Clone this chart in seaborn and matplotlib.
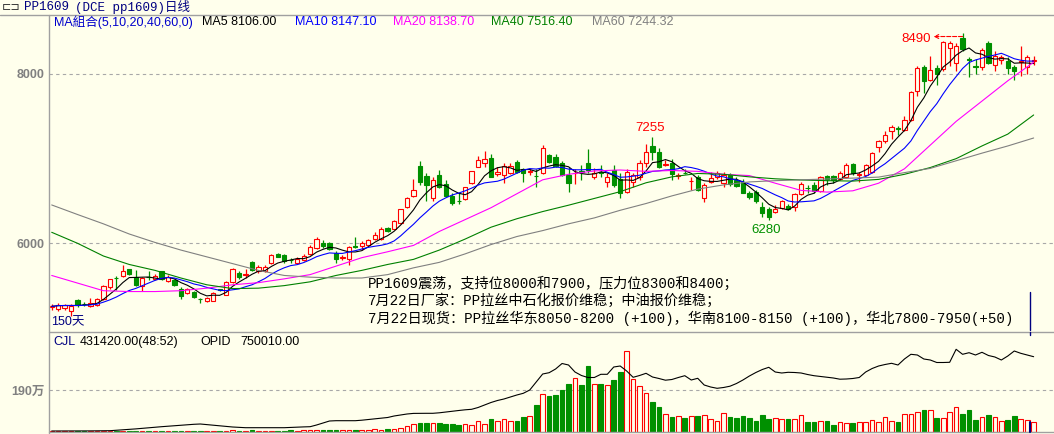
import numpy as np
import pandas as pd
import matplotlib
matplotlib.use("Agg")
import matplotlib.pyplot as plt
import seaborn as sns
from matplotlib.lines import Line2D
from matplotlib.transforms import offset_copy

# ---------------- data ----------------
opens = [5245, 5228, 5232, 5197, 5331, 5284, 5260, 5268, 5339, 5480,
         5595, 5614, 5693, 5607, 5496, 5605, 5575, 5670, 5559, 5567,
         5457, 5418, 5425, 5342, 5323, 5323, 5457, 5394, 5543, 5654,
         5630, 5780, 5670, 5670, 5764, 5874, 5858, 5808, 5764, 5804,
         5874, 5941, 6000, 6000, 5890, 5828, 5811, 5965, 5969, 5977,
         6056, 6048, 6182, 6174, 6245, 6426, 6560, 6914, 6796, 6540,
         6807, 6697, 6560, 6500, 6520, 6709, 6906, 6953, 7008, 6819,
         6807, 6827, 6957, 6874, 6845, 6800, 6827, 7040, 7024, 6953,
         6807, 6830, 6850, 6945, 6788, 6840, 6726, 6867, 6756, 6611,
         6729, 6788, 6945, 7150, 7083, 6930, 6945, 6800, 6835, 6738,
         6788, 6532, 6721, 6788, 6709, 6807, 6748, 6729, 6591, 6603,
         6433, 6402, 6370, 6414, 6441, 6433, 6583, 6657, 6693, 6614,
         6799, 6791, 6763, 6783, 6937, 6808, 6811, 6842, 7134, 7204,
         7323, 7358, 7342, 7460, 7795, 8082, 7925, 8071, 8063, 8307,
         8130, 8425, 8172, 8093, 8079, 8366, 8110, 8169, 8149, 8078,
         8146, 8079, 8158]
highs = [5280, 5295, 5288, 5288, 5347, 5307, 5355, 5355, 5504, 5583,
         5614, 5744, 5701, 5685, 5599, 5670, 5638, 5677, 5622, 5583,
         5480, 5473, 5441, 5355, 5370, 5425, 5465, 5559, 5705, 5670,
         5693, 5796, 5748, 5740, 5874, 5890, 5874, 5827, 5835, 5870,
         5980, 6071, 6040, 6010, 5906, 5862, 5969, 6071, 6024, 6056,
         6138, 6197, 6197, 6280, 6410, 6552, 6756, 6973, 6835, 6788,
         6867, 6748, 6591, 6599, 6670, 6860, 7032, 7091, 7056, 6898,
         6945, 6945, 6985, 6886, 6875, 6874, 7162, 7056, 7056, 6975,
         6906, 6874, 6926, 7111, 6886, 6926, 6827, 6926, 6827, 6874,
         6827, 6985, 7174, 7255, 7122, 6985, 6993, 6835, 6874, 6788,
         6807, 6709, 6847, 6859, 6847, 6835, 6788, 6760, 6622, 6630,
         6493, 6426, 6453, 6512, 6465, 6599, 6720, 6693, 6724, 6791,
         6811, 6811, 6858, 6949, 6949, 6842, 6937, 7079, 7224, 7323,
         7393, 7382, 7500, 7803, 8090, 8110, 8208, 8102, 8393, 8386,
         8366, 8490, 8197, 8181, 8307, 8394, 8267, 8228, 8197, 8102,
         8327, 8228, 8208]
lows = [5213, 5197, 5213, 5142, 5252, 5260, 5244, 5260, 5331, 5457,
        5449, 5599, 5630, 5496, 5441, 5567, 5567, 5567, 5547, 5496,
        5339, 5402, 5355, 5292, 5307, 5315, 5441, 5386, 5536, 5575,
        5591, 5670, 5654, 5662, 5756, 5835, 5772, 5772, 5756, 5790,
        5862, 5930, 5941, 5915, 5772, 5804, 5749, 5941, 5922, 5970,
        6040, 6040, 6130, 6166, 6230, 6414, 6552, 6690, 6504, 6504,
        6650, 6552, 6453, 6465, 6512, 6700, 6898, 6906, 6780, 6800,
        6709, 6819, 6827, 6729, 6810, 6670, 6819, 6945, 6906, 6790,
        6611, 6701, 6748, 6827, 6756, 6788, 6670, 6670, 6532, 6599,
        6670, 6748, 6906, 6985, 6886, 6914, 6748, 6756, 6819, 6630,
        6622, 6493, 6709, 6756, 6662, 6680, 6662, 6590, 6520, 6480,
        6307, 6280, 6363, 6402, 6394, 6386, 6570, 6594, 6594, 6606,
        6693, 6712, 6752, 6771, 6803, 6724, 6803, 6830, 7079, 7185,
        7236, 7275, 7323, 7449, 7736, 7775, 7913, 7874, 8039, 8090,
        8031, 8275, 7960, 8000, 8051, 8118, 8031, 8118, 8000, 7933,
        7972, 8000, 8110]
closes = [5255, 5272, 5268, 5264, 5268, 5280, 5300, 5339, 5496, 5575,
          5590, 5677, 5638, 5504, 5591, 5598, 5614, 5583, 5599, 5504,
          5378, 5457, 5370, 5339, 5351, 5418, 5449, 5543, 5697, 5607,
          5638, 5685, 5725, 5725, 5858, 5843, 5788, 5800, 5811, 5851,
          5961, 6056, 5965, 5930, 5811, 5833, 5953, 5961, 6008, 6040,
          6095, 6166, 6142, 6268, 6402, 6532, 6630, 6729, 6689, 6749,
          6670, 6560, 6481, 6496, 6662, 6851, 6985, 6993, 6788, 6847,
          6914, 6914, 6847, 6835, 6850, 6796, 7122, 6961, 6914, 6808,
          6717, 6835, 6845, 6867, 6835, 6835, 6780, 6689, 6591, 6847,
          6807, 6945, 7083, 7083, 6898, 6937, 6819, 6804, 6830, 6741,
          6630, 6689, 6768, 6827, 6807, 6701, 6678, 6599, 6552, 6496,
          6355, 6307, 6402, 6500, 6410, 6579, 6701, 6650, 6614, 6779,
          6763, 6752, 6830, 6929, 6830, 6814, 6929, 7067, 7204, 7283,
          7370, 7350, 7460, 7787, 8071, 7921, 8043, 8000, 8378, 8366,
          8327, 8299, 8166, 8087, 8287, 8130, 8208, 8197, 8071, 8031,
          8152, 8197, 8164]
# volume in 万 (10k lots)
volume_wan = [3, 3, 4, 4, 3, 3, 4, 4, 5, 6,
              5, 6, 5, 6, 5, 6, 5, 6, 5, 5,
              6, 5, 5, 6, 5, 5, 5, 6, 7, 6,
              6, 7, 6, 5, 6, 6, 6, 7, 6, 7,
              8, 9, 8, 8, 9, 8, 10, 9, 10, 11,
              12, 11, 13, 15,
              19.6, 27.1, 34.7, 40.7, 40.7, 40.7, 40.7, 36.2, 36.2, 31.7,
              36.2, 31.7, 49.8, 36.2, 58.8, 49.8, 58.8, 49.8, 49.8, 67.9,
              72.4, 122.1, 171.9, 162.9, 167.4, 190.0, 217.2, 242.8, 212.6, 300.1,
              217.2, 217.2, 212.6, 235.2, 271.4, 366.4, 239.8, 206.6, 176.4, 135.7,
              113.1, 81.4, 67.9, 72.4, 63.3, 72.4, 72.4, 76.9, 58.8, 49.8,
              86.0, 67.9, 63.3, 72.4, 63.3, 49.8, 76.9, 58.8, 63.3, 58.8,
              58.8, 58.8, 76.9, 45.2, 45.2, 49.8, 49.8, 31.7, 45.2, 40.7,
              40.7, 45.2, 45.2, 54.3, 45.2, 67.9, 49.8, 45.2, 81.4, 81.4,
              90.5, 99.5, 99.5, 63.3, 63.3, 90.5, 113.1, 81.4, 99.5, 54.3,
              67.9, 76.9, 67.9, 49.8, 54.3, 72.4, 58.8, 54.3, 43.1]
# open interest in 万
open_interest_wan = [1.0, 1.0, 1.0, 1.0, 1.0, 1.1, 1.1, 1.2, 1.2, 1.3,
                     1.8, 2.2, 2.6, 3.1, 3.6, 4.2, 4.8, 5.3, 5.8, 6.3,
                     6.8, 7.3, 7.7, 8.0, 7.4, 6.8, 6.2, 5.5, 5.0, 4.6,
                     4.3, 4.3, 4.3, 4.3, 4.3, 4.3, 4.3, 4.6, 4.9, 5.1,
                     5.3, 7.0, 9.0, 11.0, 11.3, 11.3, 11.3, 11.3, 11.8, 12.5,
                     13.2, 13.8, 14.5, 16.0, 17.0, 18.0, 18.6, 18.7, 18.7, 18.7,
                     19.2, 20.0, 20.8, 21.5, 22.2, 22.7, 24.5, 27.0, 29.5, 31.5,
                     33.0, 35.0, 37.0, 38.7, 42.0, 50.0, 58.0, 59.3, 63.0, 68.5,
                     67.0, 60.0, 56.5, 54.5, 54.5, 57.7, 57.7, 65.0, 66.0, 61.0,
                     54.7, 56.5, 58.7, 55.0, 53.5, 51.8, 52.5, 54.5, 56.3, 52.0,
                     53.7, 47.0, 45.0, 43.7, 44.5, 45.8, 48.5, 52.0, 56.0, 59.5,
                     62.5, 64.7, 60.0, 59.0, 59.7, 59.5, 59.0, 57.5, 56.3, 55.5,
                     54.7, 54.0, 52.8, 53.0, 53.5, 54.5, 60.0, 63.5, 66.0, 67.5,
                     68.7, 67.0, 73.0, 77.7, 77.0, 73.0, 72.0, 69.5, 69.5, 69.7,
                     82.7, 77.7, 79.3, 77.0, 79.7, 76.5, 75.0, 72.0, 76.0, 81.0,
                     78.7, 77.0, 75.3]
# long moving averages read every 4th bar
ma_step = 4
ma20_read = [5620, 5530, 5440, 5430, 5430, 5440, 5470, 5510, 5535, 5580,
             5630, 5730, 5830, 5900, 5975, 6140, 6280, 6420, 6585, 6750,
             6815, 6855, 6866, 6850, 6860, 6850, 6815, 6800, 6710, 6625,
             6605, 6620, 6710, 6880, 7160, 7440, 7680, 7920, 8139]
ma40_read = [6130, 6000, 5850, 5750, 5680, 5590, 5510, 5465, 5470, 5500,
             5545, 5620, 5680, 5750, 5810, 5920, 6050, 6190, 6290, 6375,
             6450, 6530, 6610, 6715, 6785, 6825, 6815, 6785, 6762, 6748,
             6740, 6735, 6755, 6815, 6895, 7000, 7150, 7290, 7516]
ma60_read = [6453, 6340, 6230, 6110, 6010, 5920, 5840, 5760, 5680, 5620,
             5600, 5590, 5590, 5630, 5710, 5775, 5875, 5985, 6080, 6150,
             6230, 6300, 6390, 6470, 6560, 6640, 6690, 6725, 6740, 6750,
             6760, 6770, 6782, 6835, 6885, 6975, 7065, 7150, 7244]

header_names = ["MA5", "MA10", "MA20", "MA40", "MA60"]
header_values = ["8106.00", "8147.10", "8138.70", "7516.40", "7244.32"]
note_lines = ["PP1609震荡，支持位8000和7900，压力位8300和8400；",
              "7月22日厂家：PP拉丝中石化报价维稳；中油报价维稳；",
              "7月22日现货：PP拉丝华东8050-8200 (+100)，华南8100-8150 (+100)，华北7800-7950(+50)"]
price_ticks = [6000, 8000]
vol_tick = 190
cjl_text = "431420.00(48:52)"
opid_text = "750010.00"

# ---------------- style ----------------
sns.set_theme(style="white")
BG = "#FFFFEC"
RED = "#FF0000"
GREEN = "#009000"
GRID = "#A8A8A8"
AXC = "#A0A0A0"
plt.rcParams["font.family"] = ["Liberation Sans", "Noto Sans CJK SC", "DejaVu Sans"]
plt.rcParams["axes.unicode_minus"] = False

W, H = 1054, 434
fig = plt.figure(figsize=(W / 100, H / 100), dpi=100, facecolor=BG)

def fx(px):
    return px / W

def fy(py):
    return 1 - py / H

ax = fig.add_axes([fx(49), fy(331), 1 - fx(49), (331 - 15) / H], facecolor=BG)
axv = fig.add_axes([fx(49), fy(432), 1 - fx(49), (432 - 332) / H], facecolor=BG)

o = np.array(opens, float); h = np.array(highs, float)
l = np.array(lows, float); c = np.array(closes, float)
n = len(c)
x = np.arange(n)
up = c >= o
blo = np.minimum(o, c); bhi = np.maximum(o, c)
bh = np.maximum(bhi - blo, 0.5)

# price scale: 8000 at y=74px, 6000 at y=243.3px
k = 2000 / 169.3
ax.set_ylim(8000 - (331 - 74) * k, 8000 + (74 - 15) * k)
xl = (-0.418, 155.15)
ax.set_xlim(*xl)

for yv in price_ticks:
    ax.axhline(yv, color=GRID, lw=0.8, ls=(0, (3, 3)), zorder=0)

# wicks
cols = np.where(up, RED, GREEN)
ax.vlines(x, bhi, h, colors=cols, lw=0.9, zorder=2)
ax.vlines(x, l, blo, colors=cols, lw=0.9, zorder=2)
# bodies
ax.bar(x[up], bh[up], bottom=blo[up], width=0.66, facecolor=BG, edgecolor=RED, lw=0.8, zorder=3)
ax.bar(x[~up], bh[~up], bottom=blo[~up], width=0.66, facecolor=GREEN, edgecolor=GREEN, lw=0.8, zorder=3)

# moving averages
cs = pd.Series(c)
ma5 = cs.rolling(5, min_periods=1).mean()
ma10 = cs.rolling(10, min_periods=1).mean()
xs = np.arange(0, n, ma_step)
sns.lineplot(x=x, y=ma5.values, ax=ax, color="black", lw=0.8, zorder=4)
sns.lineplot(x=x, y=ma10.values, ax=ax, color="#0000FF", lw=0.8, zorder=4)
sns.lineplot(x=xs, y=ma20_read, ax=ax, color="#FF00FF", lw=0.8, zorder=4)
sns.lineplot(x=xs, y=ma40_read, ax=ax, color="#008000", lw=0.8, zorder=4)
sns.lineplot(x=xs, y=ma60_read, ax=ax, color="#808080", lw=0.8, zorder=4)

# high / low labels
hi_i = int(np.argmax(h))
ax.annotate("", xy=(hi_i, h[hi_i]), xycoords=offset_copy(ax.transData, fig, x=-29, y=-4, units="dots"),
            xytext=(hi_i, h[hi_i]), textcoords=offset_copy(ax.transData, fig, x=0, y=-4, units="dots"),
            arrowprops=dict(arrowstyle="->", color=RED, lw=0.8, ls="--", shrinkA=0, shrinkB=0,
                            mutation_scale=7))
ax.text(hi_i, h[hi_i], f"{h[hi_i]:.0f}", transform=offset_copy(ax.transData, fig, x=-32, y=-6, units="dots"),
        ha="right", va="center", color=RED, fontsize=9.5)
mid_hi = 80 + int(np.argmax(h[80:110]))
ax.text(mid_hi, h[mid_hi], f"{h[mid_hi]:.0f}", transform=offset_copy(ax.transData, fig, x=-2, y=9, units="dots"),
        ha="center", va="center", color=RED, fontsize=9.5)
mid_lo = 100 + int(np.argmin(l[100:130]))
ax.text(mid_lo, l[mid_lo], f"{l[mid_lo]:.0f}", transform=offset_copy(ax.transData, fig, x=-3, y=-10, units="dots"),
        ha="center", va="center", color=GREEN, fontsize=9.5)

ax.set_yticks(price_ticks)
ax.set_yticklabels([str(t) for t in price_ticks], color="#808080", fontweight="bold", fontsize=9)
ax.set_xticks([])
ax.tick_params(axis="y", length=0, pad=3)
for s in ax.spines.values():
    s.set_visible(False)

# ---------------- volume panel ----------------
vol = np.array(volume_wan, float)
vpx = 190 / 42.0
axv.set_ylim(0, (432 - 332) * vpx)
axv.set_xlim(*xl)
axv.axhline(vol_tick, color=GRID, lw=0.8, ls=(0, (3, 3)), zorder=0)
axv.bar(x[up], vol[up], width=0.72, facecolor=BG, edgecolor=RED, lw=0.8, zorder=3)
axv.bar(x[~up], vol[~up], width=0.72, facecolor=GREEN, edgecolor=GREEN, lw=0.8, zorder=3)
axv.set_yticks([vol_tick])
axv.set_yticklabels([f"{vol_tick}万"], color="#808080", fontweight="bold", fontsize=9)
axv.set_xticks([])
axv.tick_params(axis="y", length=0, pad=3)
for s in axv.spines.values():
    s.set_visible(False)

axo = axv.twinx()
axo.set_ylim(0, 100)
sns.lineplot(x=x, y=open_interest_wan, ax=axo, color="black", lw=0.8, zorder=5)
axo.set_yticks([]); axo.set_xlim(*xl)
for s in axo.spines.values():
    s.set_visible(False)
for a in (ax, axv, axo):
    a.set_xlabel(""); a.set_ylabel("")

# ---------------- frame lines ----------------
def hline(py, x0, x1, color=AXC, lw=1.0):
    fig.add_artist(Line2D([fx(x0), fx(x1)], [fy(py), fy(py)], color=color, lw=lw))

def vline(px, y0, y1, color=AXC, lw=1.0):
    fig.add_artist(Line2D([fx(px), fx(px)], [fy(y0), fy(y1)], color=color, lw=lw))

hline(15, 0, W)
hline(332, 49, W)
hline(432, 49, W)
vline(49, 15, H)
vline(1029.5, 292, 330, color="#000080", lw=1.0)
vline(1029.5, 332, 335, color="#000080", lw=1.0)
vline(1029.5, 422, 432, color="#000080", lw=1.5)

# ---------------- texts ----------------
mono = ["Liberation Mono", "Noto Sans CJK SC"]
sans = ["Liberation Sans", "Noto Sans CJK SC"]
NAVY = "#000080"
fig.text(fx(2), fy(7), "⊏⊐", family=["DejaVu Sans"], fontsize=8, color="#303030", va="center")
fig.text(fx(24), fy(7), "PP1609", family=mono, fontsize=9, color=NAVY, va="center")
fig.text(fx(75), fy(7), "(DCE pp1609)日线", family=mono, fontsize=9, color=NAVY, va="center")

fig.text(fx(54), fy(22), "MA組合(5,10,20,40,60,0)", family=["Liberation Sans", "Noto Sans CJK TC"],
         fontsize=9, color="#0000CC", va="center")
hx = [202, 295, 393, 491, 592]
hc = ["black", "#0000FF", "#FF00FF", "#008000", "#808080"]
for px_, nm, val, col in zip(hx, header_names, header_values, hc):
    fig.text(fx(px_), fy(22), f"{nm} {val}", family=sans, fontsize=9, color=col, va="center")

for i, line in enumerate(note_lines):
    fig.text(fx(368), fy(284 + 17 * i), line, family=mono, fontsize=10.2, color="black", va="center")

fig.text(fx(51), fy(322), "150天", family=sans, fontsize=9, color=NAVY, va="center")

fig.text(fx(53), fy(342), "CJL", family=sans, fontsize=9, color=NAVY, va="center")
fig.text(fx(80), fy(342), cjl_text, family=sans, fontsize=9, color="black", va="center")
fig.text(fx(200), fy(342), "OPID", family=sans, fontsize=9, color="black", va="center")
fig.text(fx(240), fy(342), opid_text, family=sans, fontsize=9, color="black", va="center")

fig.savefig("out.png", dpi=100, facecolor=BG)
